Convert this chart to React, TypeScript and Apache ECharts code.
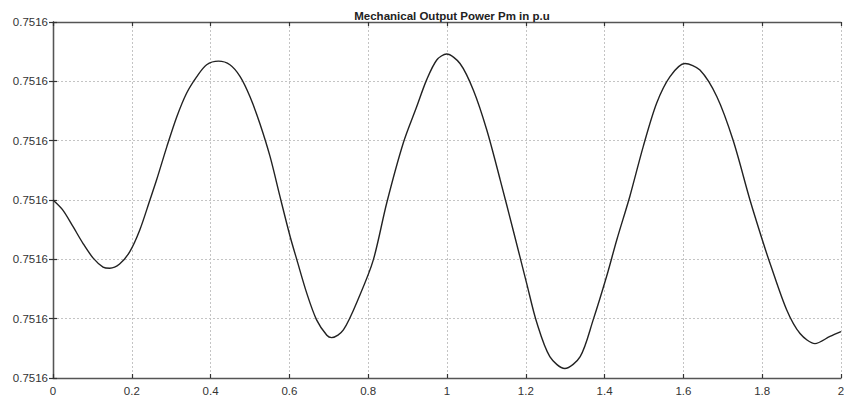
import React, { useEffect, useRef } from "react";
import * as echarts from "echarts";

const chartTitle = "Mechanical Output Power Pm in p.u";

const timeValues = [
  0, 0.025, 0.051, 0.076, 0.102, 0.127, 0.144, 0.169, 0.195, 0.22, 0.246, 0.263, 0.289, 0.314, 0.339,
  0.365, 0.39, 0.42, 0.449, 0.475, 0.5, 0.525, 0.551, 0.576, 0.602, 0.619, 0.644, 0.669, 0.695, 0.707,
  0.737, 0.779, 0.813, 0.847, 0.889, 0.923, 0.948, 0.974, 0.999, 1.033, 1.067, 1.101, 1.135, 1.168,
  1.202, 1.228, 1.261, 1.299, 1.338, 1.371, 1.405, 1.431, 1.464, 1.498, 1.532, 1.566, 1.604, 1.642,
  1.685, 1.726, 1.769, 1.803, 1.82, 1.862, 1.896, 1.934, 1.972, 2.0,
];

const powerValues = [
  0.751566, 0.75156566, 0.7515651, 0.75156454, 0.75156404, 0.75156374, 0.7515637, 0.75156384,
  0.75156426, 0.75156498, 0.751566, 0.75156668, 0.7515678, 0.7515688, 0.7515696, 0.75157016,
  0.75157056, 0.75157068, 0.75157056, 0.75157016, 0.75156948, 0.75156858, 0.75156746, 0.75156612,
  0.75156476, 0.75156398, 0.75156286, 0.75156196, 0.75156144, 0.75156136, 0.75156162, 0.7515628,
  0.75156398, 0.7515659, 0.75156792, 0.75156914, 0.75157004, 0.75157072, 0.75157092, 0.7515706,
  0.7515697, 0.75156836, 0.75156668, 0.75156498, 0.7515632, 0.75156186, 0.75156072, 0.75156032,
  0.75156072, 0.75156196, 0.75156342, 0.75156466, 0.75156612, 0.7515678, 0.75156926, 0.75157016,
  0.7515706, 0.75157038, 0.75156948, 0.75156802, 0.751566, 0.75156454, 0.75156386, 0.7515623,
  0.7515615, 0.75156116, 0.7515614, 0.75156156,
];

const xMin = 0;
const xMax = 2;
const xStep = 0.2;
const yMin = 0.75156;
const yMax = 0.751572;
const yStep = 0.000002;

export default function App() {
  const ref = useRef<HTMLDivElement>(null);

  useEffect(() => {
    if (!ref.current) return;
    const chart = echarts.init(ref.current, null, { renderer: "svg" });
    const data = timeValues.map((t, i) => [t, powerValues[i]]);
    const labelStyle = {
      color: "#333",
      fontFamily: "Liberation Sans, Arial, sans-serif",
      fontSize: 11.5,
    };
    const gridLine = { show: true, lineStyle: { color: "#c4c4c4", type: [2, 2] as any, width: 1 } };
    const axisLine = { show: true, lineStyle: { color: "#555", width: 1.3 } };
    const tick = { show: true, inside: true, length: 4, lineStyle: { color: "#333", width: 1.2 } };
    chart.setOption({
      animation: false,
      backgroundColor: "#fff",
      title: {
        text: chartTitle,
        left: 447,
        textAlign: "center",
        top: 5,
        textStyle: {
          fontFamily: "Liberation Sans, Arial, sans-serif",
          fontSize: 11.5,
          fontWeight: "bold",
          color: "#222",
        },
      },
      grid: {
        left: 53,
        right: 3,
        top: 22,
        bottom: 24,
        containLabel: false,
        outerBoundsMode: "none",
      },
      xAxis: [
        {
          type: "value",
          min: xMin,
          max: xMax,
          interval: xStep,
          position: "bottom",
          axisLine,
          axisTick: tick,
          splitLine: gridLine,
          axisLabel: { ...labelStyle, margin: 7, formatter: (v: number) => String(parseFloat(v.toFixed(1))) },
        },
        {
          type: "value",
          min: xMin,
          max: xMax,
          interval: xStep,
          position: "top",
          axisLine,
          axisTick: tick,
          splitLine: { show: false },
          axisLabel: { show: false },
        },
      ],
      yAxis: [
        {
          type: "value",
          min: yMin,
          max: yMax,
          interval: yStep,
          position: "left",
          axisLine,
          axisTick: tick,
          splitLine: gridLine,
          axisLabel: { ...labelStyle, margin: 5, formatter: (v: number) => v.toFixed(4) },
        },
        {
          type: "value",
          min: yMin,
          max: yMax,
          interval: yStep,
          position: "right",
          axisLine,
          axisTick: tick,
          splitLine: { show: false },
          axisLabel: { show: false },
        },
      ],
      series: [
        {
          type: "line",
          data,
          smooth: 0.3,
          showSymbol: false,
          xAxisIndex: 0,
          yAxisIndex: 0,
          lineStyle: { color: "#222", width: 1.4 },
        },
      ],
    });
    return () => chart.dispose();
  }, []);

  return <div ref={ref} style={{ position: "absolute", left: 0, top: 0, width: 844, height: 402 }} />;
}
